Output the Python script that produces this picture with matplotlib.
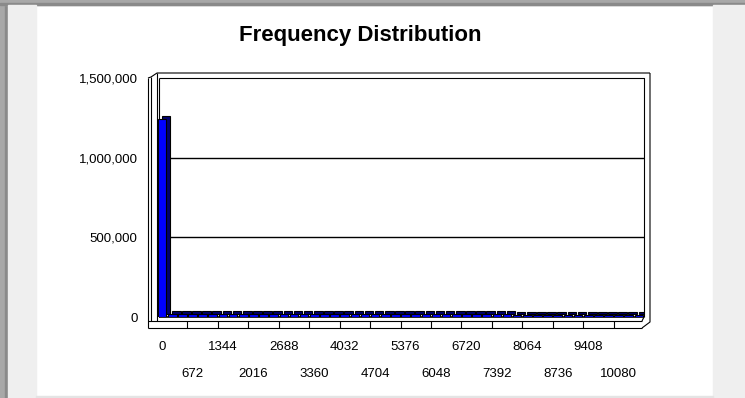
import numpy as np
import matplotlib.pyplot as plt
from matplotlib.patches import Rectangle
from matplotlib.transforms import ScaledTranslation, blended_transform_factory

plt.rcParams['font.family'] = ['Liberation Sans', 'DejaVu Sans']

# histogram counts, one per bin (bin width 224)
freq = [1245000, 21500, 19800, 18900, 18200, 17800, 17500, 17300, 17100, 16900,
        16800, 16700, 16600, 16500, 16400, 16400, 16300, 16300, 16200, 16200,
        16100, 16100, 16000, 16000, 16000, 15900, 15900, 15900, 15800, 15800,
        15800, 15700, 15700, 15700, 15700, 15600, 15600, 15600, 15600, 15500,
        15500, 15500, 15500, 15400, 15400, 15400, 15400, 15300]
x_labels = ['0', '672', '1344', '2016', '2688', '3360', '4032', '4704',
            '5376', '6048', '6720', '7392', '8064', '8736', '9408', '10080']
y_ticks = [0, 500000, 1000000, 1500000]
y_labels = ['0', '500,000', '1,000,000', '1,500,000']

W, H = 745, 398
fig = plt.figure(figsize=(W / 100, H / 100), dpi=100)


def px_box(x0, y0, x1, y1):
    """figure-fraction rect from pixel corners (y measured from top)"""
    return [x0 / W, 1 - y1 / H, (x1 - x0) / W, (y1 - y0) / H]


# pixel-space layer for the frame and the 3D walls
deco = fig.add_axes([0, 0, 1, 1], zorder=0)
deco.set_xlim(0, W)
deco.set_ylim(H, 0)
deco.axis('off')

deco.add_patch(Rectangle((0, 0), 8, H, color='#a8a8a8'))
deco.add_patch(Rectangle((5, 0), 2, H, color='#8a8a8a'))
deco.add_patch(Rectangle((0, 0), W, 5, color='#a8a8a8'))
deco.add_patch(Rectangle((0, 3), W, 2, color='#8a8a8a'))
deco.add_patch(Rectangle((8, 5), 28, H, color='#efefef'))
deco.add_patch(Rectangle((713, 5), 32, H, color='#efefef'))
deco.add_patch(Rectangle((36, 396), 677, 2, color='#e4e4e4'))


def line(xs, ys, lw=0.8):
    deco.plot(xs, ys, color='black', lw=lw, solid_capstyle='butt', zorder=2)


# back wall (double edge)
line([151, 157, 650], [77, 73, 73])
line([159, 644, 644], [78, 78, 317])
line([650, 650, 642], [73, 322, 328])
line([644, 642], [317, 321])
# left wall
line([148, 148], [78, 328])
line([151, 151], [77, 321])
line([157, 157], [73, 321])
line([159, 159], [78, 317])
line([148, 151], [78, 77])
# floor
line([159, 644], [317, 317], lw=1.2)
line([148, 642], [321, 321])
line([148, 642], [328, 328])

# value axis sits on the back wall
ax = fig.add_axes(px_box(157, 78, 644, 317), zorder=1)
ax.patch.set_alpha(0)
cats = np.arange(len(freq))
ax.set_xlim(-0.5, len(freq) - 0.5)
ax.set_ylim(0, 1500000)
for s in ax.spines.values():
    s.set_visible(False)
ax.set_xticks([])
ax.set_yticks(y_ticks, labels=y_labels)
ax.tick_params(axis='y', length=0, pad=14, labelsize=9.5)

for y in y_ticks[1:3]:
    ax.axhline(y, color='black', lw=1.0, zorder=1)
wall_t = blended_transform_factory(deco.transData, ax.transData)
ax.hlines(y_ticks[1:3], 148, 157, color='black', lw=0.8, transform=wall_t)

# columns: dark extruded copy behind, blue face in front
depth = ScaledTranslation(4 / 100, 3 / 100, fig.dpi_scale_trans)
ax.bar(cats, freq, width=0.85, color='#00006e', edgecolor='black', lw=0.8,
       zorder=2, transform=ax.transData + depth)
ax.bar(cats, freq, width=0.85, color='#0000ff', edgecolor='black', lw=0.8,
       zorder=3)

# category labels in two staggered rows, ticks on the floor front
label_cats = np.arange(0, 46, 3)
floor_t = blended_transform_factory(ax.transData, deco.transData)
for i, (c, lab) in enumerate(zip(label_cats, x_labels)):
    ax.text(c, 347 if i % 2 == 0 else 374, lab, transform=floor_t,
            ha='center', va='center', fontsize=9.5, clip_on=False)
ax.vlines(label_cats[1:] - 0.5, 321, 328, color='black', lw=0.8,
          transform=floor_t, clip_on=False)

fig.text(360 / W, 1 - 35 / H, 'Frequency Distribution', ha='center',
         va='center', fontsize=16, fontweight='bold')

fig.savefig('out.png', dpi=100, facecolor='white')
